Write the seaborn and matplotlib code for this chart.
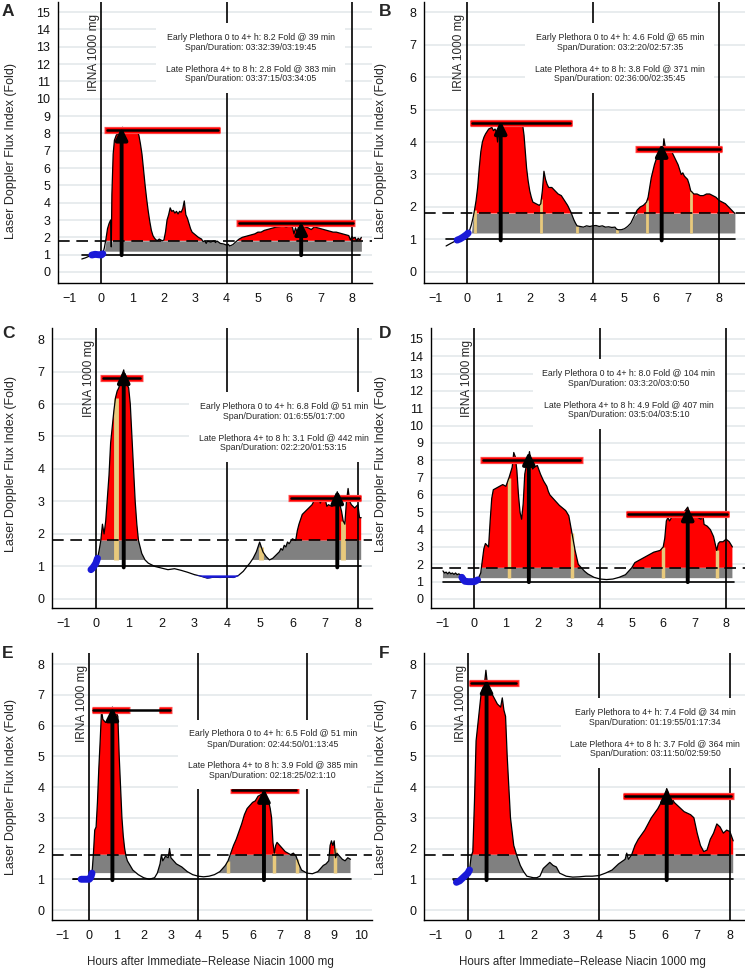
import numpy as np
import pandas as pd
import seaborn as sns
import matplotlib
matplotlib.use('Agg')
import matplotlib.pyplot as plt
from matplotlib import transforms

sns.set_style('white')
FONT = ['Liberation Sans', 'DejaVu Sans']
plt.rcParams['font.family'] = FONT
plt.rcParams['axes.unicode_minus'] = True

# ---- curves: (hours, fold) ----
curve_A = [(-0.62, 0.75), (-0.5, 0.82), (-0.4, 0.9), (-0.3, 0.98), (-0.2, 1.02), (-0.1, 1.0), (0.0, 0.98),
           (0.05, 1.05), (0.1, 1.4), (0.15, 1.9), (0.2, 2.5), (0.25, 2.8), (0.3, 3.0), (0.32, 1.45), (0.34, 4.5),
           (0.38, 6.8), (0.42, 7.6), (0.48, 7.9), (0.55, 8.0), (0.62, 8.2), (0.68, 8.35), (0.75, 8.25), (0.85, 8.2),
           (0.95, 8.22), (1.05, 8.18), (1.15, 8.1), (1.2, 7.9), (1.25, 7.4), (1.3, 6.8), (1.35, 5.9), (1.4, 5.0),
           (1.45, 4.2), (1.5, 3.5), (1.55, 2.9), (1.6, 2.4), (1.65, 2.1), (1.7, 1.95), (1.75, 1.85), (1.8, 1.82),
           (1.85, 1.9), (1.9, 1.85), (1.95, 1.8), (2.0, 1.85), (2.05, 2.3), (2.1, 3.0), (2.15, 3.3), (2.2, 3.7),
           (2.25, 3.5), (2.3, 3.55), (2.35, 3.4), (2.4, 3.5), (2.45, 3.35), (2.5, 3.5), (2.55, 3.45), (2.6, 3.65),
           (2.65, 4.1), (2.7, 3.3), (2.75, 3.1), (2.8, 2.8), (2.85, 2.5), (2.9, 2.3), (3.0, 2.15), (3.1, 2.0),
           (3.2, 1.9), (3.25, 1.75), (3.3, 1.8), (3.35, 1.65), (3.4, 1.78), (3.5, 1.72), (3.6, 1.8), (3.65, 1.7),
           (3.7, 1.78), (3.8, 1.65), (3.9, 1.62), (4.0, 1.55), (4.05, 1.6), (4.1, 1.5), (4.2, 1.58), (4.3, 1.75),
           (4.4, 1.9), (4.5, 2.0), (4.6, 2.05), (4.7, 2.1), (4.8, 2.15), (4.9, 2.2), (5.0, 2.3), (5.1, 2.3),
           (5.2, 2.4), (5.3, 2.45), (5.4, 2.5), (5.5, 2.55), (5.6, 2.6), (5.7, 2.62), (5.8, 2.65), (5.9, 2.6),
           (6.0, 2.65), (6.1, 2.6), (6.15, 2.2), (6.2, 2.55), (6.25, 2.3), (6.3, 2.65), (6.38, 2.85), (6.45, 2.7),
           (6.5, 2.6), (6.6, 2.55), (6.7, 2.45), (6.8, 2.6), (6.9, 2.55), (7.0, 2.5), (7.1, 2.45), (7.2, 2.4),
           (7.3, 2.35), (7.4, 2.3), (7.5, 2.3), (7.6, 2.25), (7.7, 2.2), (7.8, 2.15), (7.9, 2.1), (7.95, 1.85),
           (8.0, 2.05), (8.05, 1.95), (8.1, 2.0), (8.15, 1.8), (8.2, 1.95), (8.25, 1.85), (8.3, 2.0)]

curve_B = [(-0.65, 0.8), (-0.5, 0.88), (-0.4, 0.93), (-0.3, 0.98), (-0.2, 1.02), (-0.1, 1.08), (0.0, 1.15),
           (0.05, 1.2), (0.1, 1.3), (0.15, 1.45), (0.2, 1.65), (0.25, 1.9), (0.3, 2.2), (0.35, 2.6), (0.4, 3.2),
           (0.45, 3.7), (0.5, 4.0), (0.55, 4.15), (0.6, 4.25), (0.7, 4.4), (0.8, 4.45), (0.85, 4.35), (0.9, 4.4),
           (0.95, 4.3), (0.98, 4.0), (1.02, 4.4), (1.08, 4.65), (1.12, 4.5), (1.2, 4.52), (1.3, 4.55), (1.4, 4.55),
           (1.5, 4.53), (1.6, 4.55), (1.7, 4.55), (1.78, 4.5), (1.82, 4.2), (1.86, 3.7), (1.9, 3.2), (1.95, 2.8),
           (2.0, 2.5), (2.05, 2.3), (2.1, 2.15), (2.2, 2.1), (2.3, 2.05), (2.35, 2.1), (2.4, 2.5), (2.45, 3.1),
           (2.5, 2.85), (2.55, 2.7), (2.6, 2.6), (2.7, 2.6), (2.8, 2.5), (2.9, 2.4), (3.0, 2.35), (3.1, 2.2),
           (3.2, 2.05), (3.3, 1.85), (3.4, 1.6), (3.45, 1.5), (3.5, 1.42), (3.6, 1.4), (3.7, 1.38), (3.8, 1.42),
           (3.9, 1.4), (4.0, 1.42), (4.1, 1.43), (4.2, 1.4), (4.3, 1.42), (4.4, 1.38), (4.5, 1.39), (4.6, 1.37),
           (4.7, 1.38), (4.75, 1.32), (4.8, 1.3), (4.9, 1.3), (5.0, 1.33), (5.1, 1.4), (5.2, 1.5), (5.3, 1.7),
           (5.4, 1.9), (5.5, 2.0), (5.6, 2.05), (5.7, 2.15), (5.75, 2.3), (5.8, 2.6), (5.85, 2.9), (5.9, 3.1),
           (5.95, 3.3), (6.0, 3.45), (6.05, 3.55), (6.1, 3.7), (6.18, 3.85), (6.22, 3.75), (6.25, 4.1), (6.3, 3.8),
           (6.4, 3.8), (6.5, 3.7), (6.6, 3.5), (6.7, 3.3), (6.75, 3.15), (6.8, 3.0), (6.85, 3.05), (6.9, 2.95),
           (7.0, 2.85), (7.05, 2.7), (7.1, 2.5), (7.15, 2.45), (7.2, 2.4), (7.3, 2.4), (7.4, 2.35), (7.5, 2.35),
           (7.6, 2.4), (7.7, 2.4), (7.8, 2.35), (7.9, 2.3), (8.0, 2.2), (8.1, 2.15), (8.2, 2.1), (8.3, 2.0),
           (8.4, 1.9), (8.5, 1.8)]

curve_C = [(-0.15, 0.9), (-0.1, 0.95), (-0.05, 1.02), (0.0, 1.1), (0.05, 1.25), (0.1, 1.5), (0.15, 1.8),
           (0.2, 2.3), (0.25, 2.0), (0.3, 2.4), (0.35, 3.1), (0.4, 3.8), (0.45, 4.8), (0.5, 5.3), (0.55, 5.8),
           (0.6, 6.2), (0.65, 6.4), (0.7, 6.5), (0.75, 6.7), (0.8, 6.9), (0.85, 7.05), (0.9, 6.7), (0.95, 6.6),
           (1.0, 6.5), (1.05, 6.0), (1.1, 5.0), (1.15, 4.0), (1.2, 3.0), (1.25, 2.3), (1.3, 1.8), (1.4, 1.4),
           (1.5, 1.2), (1.6, 1.1), (1.8, 1.0), (2.0, 0.95), (2.2, 0.9), (2.4, 0.93), (2.6, 0.88), (2.8, 0.82),
           (3.0, 0.75), (3.2, 0.7), (3.4, 0.64), (3.6, 0.67), (3.8, 0.66), (4.0, 0.67), (4.2, 0.66), (4.35, 0.72),
           (4.5, 0.85), (4.6, 0.98), (4.7, 1.1), (4.8, 1.25), (4.9, 1.45), (5.0, 1.75), (5.05, 1.6), (5.1, 1.45),
           (5.2, 1.3), (5.3, 1.2), (5.4, 1.25), (5.5, 1.35), (5.6, 1.45), (5.65, 1.55), (5.7, 1.5), (5.75, 1.65),
           (5.8, 1.6), (5.85, 1.75), (5.9, 1.7), (6.0, 1.85), (6.1, 1.8), (6.15, 2.1), (6.2, 2.3), (6.3, 2.6),
           (6.4, 2.7), (6.5, 2.8), (6.6, 2.9), (6.7, 3.1), (6.8, 3.15), (6.85, 2.95), (6.9, 3.05), (7.0, 3.1),
           (7.05, 2.85), (7.1, 2.9), (7.2, 2.85), (7.3, 2.9), (7.37, 3.3), (7.45, 2.9), (7.5, 2.7), (7.55, 2.4),
           (7.6, 2.3), (7.65, 3.0), (7.7, 3.4), (7.75, 3.0), (7.8, 2.9), (7.9, 2.8), (8.0, 2.9), (8.05, 2.5),
           (8.1, 2.5)]

curve_D = [(-1.0, 1.62), (-0.95, 1.5), (-0.9, 1.55), (-0.85, 1.45), (-0.8, 1.55), (-0.75, 1.45), (-0.7, 1.5),
           (-0.65, 1.42), (-0.6, 1.5), (-0.55, 1.4), (-0.5, 1.45), (-0.45, 1.4), (-0.4, 1.25), (-0.35, 1.1),
           (-0.3, 1.02), (-0.2, 1.0), (-0.1, 1.0), (0.0, 1.0), (0.1, 1.1), (0.2, 1.5), (0.25, 2.2), (0.3, 2.9),
           (0.35, 3.2), (0.4, 3.1), (0.45, 3.0), (0.5, 4.5), (0.55, 5.8), (0.6, 6.3), (0.7, 6.4), (0.8, 6.5),
           (0.9, 6.6), (1.0, 6.5), (1.1, 7.0), (1.2, 7.6), (1.25, 8.45), (1.3, 8.2), (1.35, 7.4), (1.4, 6.0),
           (1.45, 5.0), (1.5, 4.6), (1.55, 5.5), (1.6, 7.2), (1.65, 7.7), (1.7, 7.9), (1.75, 8.5), (1.8, 7.8),
           (1.85, 7.5), (1.9, 7.6), (2.0, 7.7), (2.1, 7.2), (2.2, 6.8), (2.3, 6.5), (2.35, 6.2), (2.4, 6.0),
           (2.5, 5.8), (2.6, 5.6), (2.7, 5.4), (2.8, 5.25), (2.9, 5.1), (3.0, 4.8), (3.1, 3.8), (3.2, 2.8),
           (3.3, 2.0), (3.4, 1.8), (3.5, 1.6), (3.6, 1.45), (3.7, 1.35), (3.8, 1.25), (4.0, 1.15), (4.2, 1.12),
           (4.4, 1.15), (4.6, 1.25), (4.8, 1.4), (4.9, 1.6), (5.0, 1.8), (5.1, 2.1), (5.2, 2.2), (5.3, 2.3),
           (5.4, 2.4), (5.5, 2.5), (5.6, 2.6), (5.7, 2.7), (5.8, 2.75), (5.9, 2.8), (6.0, 3.0), (6.05, 3.5),
           (6.1, 4.5), (6.15, 4.7), (6.2, 4.5), (6.3, 4.8), (6.4, 4.7), (6.5, 4.85), (6.6, 4.9), (6.7, 5.1),
           (6.78, 5.3), (6.85, 4.9), (6.9, 5.0), (7.0, 4.9), (7.1, 4.7), (7.2, 4.6), (7.25, 5.0), (7.3, 4.3),
           (7.4, 4.2), (7.5, 4.0), (7.6, 3.6), (7.7, 2.8), (7.75, 3.2), (7.8, 3.3), (7.9, 3.3), (8.0, 3.45),
           (8.1, 3.3), (8.2, 3.0)]

curve_E = [(-0.6, 1.0), (-0.5, 1.0), (-0.4, 1.0), (-0.3, 1.0), (-0.2, 1.0), (-0.1, 1.0), (0.0, 1.0),
           (0.05, 1.05), (0.1, 1.2), (0.15, 1.8), (0.2, 2.6), (0.25, 2.7), (0.3, 3.5), (0.35, 4.6), (0.4, 5.5),
           (0.45, 6.5), (0.5, 6.2), (0.6, 6.1), (0.7, 6.2), (0.8, 6.3), (0.85, 6.6), (0.9, 6.5), (1.0, 6.4),
           (1.05, 6.3), (1.1, 5.0), (1.15, 4.0), (1.2, 3.0), (1.25, 2.4), (1.3, 2.0), (1.35, 1.75), (1.4, 1.6),
           (1.5, 1.45), (1.6, 1.3), (1.8, 1.15), (2.0, 1.05), (2.2, 1.0), (2.4, 1.05), (2.5, 1.2), (2.6, 1.5),
           (2.65, 1.8), (2.7, 1.6), (2.8, 1.75), (2.9, 1.7), (2.95, 2.0), (3.0, 1.7), (3.1, 1.6), (3.2, 1.5),
           (3.4, 1.4), (3.6, 1.25), (3.8, 1.15), (4.0, 1.1), (4.2, 1.08), (4.4, 1.1), (4.6, 1.15), (4.8, 1.25),
           (5.0, 1.45), (5.1, 1.6), (5.2, 1.85), (5.3, 2.1), (5.4, 2.3), (5.5, 2.55), (5.6, 2.8), (5.7, 3.1),
           (5.8, 3.3), (5.9, 3.4), (6.0, 3.5), (6.1, 3.55), (6.2, 3.7), (6.3, 3.75), (6.42, 3.95), (6.5, 3.7),
           (6.6, 3.5), (6.65, 3.3), (6.7, 3.0), (6.75, 2.2), (6.8, 1.85), (6.85, 2.1), (6.9, 2.2), (7.0, 2.1),
           (7.1, 2.0), (7.2, 1.9), (7.3, 1.85), (7.4, 1.8), (7.5, 1.85), (7.6, 1.75), (7.7, 1.5), (7.8, 1.3),
           (7.9, 1.25), (8.0, 1.2), (8.2, 1.18), (8.4, 1.25), (8.6, 1.45), (8.7, 1.5), (8.8, 1.6), (8.85, 2.1),
           (8.9, 2.25), (8.95, 2.1), (9.0, 2.25), (9.05, 1.7), (9.1, 1.85), (9.2, 1.75), (9.3, 1.65), (9.4, 1.6),
           (9.5, 1.7), (9.6, 1.65)]

curve_F = [(-0.45, 0.98), (-0.35, 0.9), (-0.25, 0.95), (-0.15, 1.05), (-0.05, 1.15), (0.0, 1.2), (0.05, 1.3),
           (0.1, 1.75), (0.15, 1.9), (0.2, 3.5), (0.25, 5.5), (0.3, 6.0), (0.35, 6.5), (0.4, 7.0), (0.45, 7.2),
           (0.5, 7.3), (0.55, 7.8), (0.6, 7.3), (0.7, 7.1), (0.8, 6.9), (0.9, 6.7), (1.0, 6.6), (1.05, 6.9),
           (1.1, 6.5), (1.15, 6.3), (1.2, 5.0), (1.25, 4.0), (1.3, 3.0), (1.4, 2.1), (1.5, 1.75), (1.6, 1.45),
           (1.7, 1.25), (1.8, 1.1), (2.0, 1.05), (2.1, 1.05), (2.2, 1.1), (2.3, 1.35), (2.4, 1.45), (2.5, 1.55),
           (2.6, 1.45), (2.7, 1.4), (2.8, 1.2), (3.0, 1.1), (3.2, 1.07), (3.4, 1.08), (3.6, 1.1), (3.8, 1.1),
           (4.0, 1.12), (4.2, 1.2), (4.4, 1.3), (4.6, 1.5), (4.8, 1.65), (4.85, 1.85), (4.9, 1.65), (5.0, 1.8),
           (5.1, 2.1), (5.2, 2.3), (5.4, 2.6), (5.6, 3.0), (5.8, 3.3), (5.9, 3.5), (6.0, 3.7), (6.07, 3.95),
           (6.15, 3.75), (6.2, 3.7), (6.3, 3.5), (6.4, 3.4), (6.5, 3.3), (6.6, 3.2), (6.7, 3.15), (6.8, 3.1),
           (6.9, 3.0), (7.0, 2.5), (7.1, 2.1), (7.2, 1.9), (7.3, 1.95), (7.4, 2.3), (7.5, 2.5), (7.6, 2.8),
           (7.7, 2.7), (7.8, 2.5), (7.9, 2.6), (8.0, 2.55), (8.05, 2.4), (8.1, 2.25)]

# peak arrows: (hour, fold) for early and late plethora
peaks_A = [(0.65, 8.35), (6.38, 2.9)]
peaks_B = [(1.08, 4.65), (6.18, 3.95)]
peaks_C = [(0.85, 7.05), (7.37, 3.35)]
peaks_D = [(1.73, 8.5), (6.78, 5.3)]
peaks_E = [(0.85, 6.6), (6.42, 3.95)]
peaks_F = [(0.57, 7.5), (6.07, 3.95)]

# plethora bars: (start h, end h, fold)
bars_A = [(0.1, 3.8, 8.2), (4.3, 8.1, 2.8)]
bars_B = [(0.1, 3.35, 4.6), (5.35, 8.1, 3.8)]
bars_C = [(0.13, 1.44, 6.8), (5.88, 8.1, 3.1)]
bars_D = [(0.18, 3.44, 8.0), (4.81, 8.1, 4.9)]
bars_E = [(0.09, 1.48, 6.5), (2.56, 3.04, 6.5), (5.17, 7.69, 3.9)]
bars_F = [(0.02, 1.55, 7.4), (4.73, 8.11, 3.7)]
bar_lines_E = [(0.15, 2.98, 6.5), (5.25, 7.6, 3.9)]

# crossing marks (hours)
marks_B = [0.25, 2.37, 3.5, 4.75, 5.72, 7.1]
marks_C = [0.6, 5.05, 7.55]
marks_D = [1.1, 3.1, 6.0, 7.7]
marks_E = [5.1, 6.8, 7.63, 9.02]

texts = {
    'A': ['Early Plethora 0 to 4+ h: 8.2 Fold @ 39 min', 'Span/Duration: 03:32:39/03:19:45',
          'Late Plethora 4+ to 8 h: 2.8 Fold @ 383 min', 'Span/Duration: 03:37:15/03:34:05'],
    'B': ['Early Plethora 0 to 4+ h: 4.6 Fold @ 65 min', 'Span/Duration: 03:2:20/02:57:35',
          'Late Plethora 4+ to 8 h: 3.8 Fold @ 371 min', 'Span/Duration: 02:36:00/02:35:45'],
    'C': ['Early Plethora 0 to 4+ h: 6.8 Fold @ 51 min', 'Span/Duration: 01:6:55/01:7:00',
          'Late Plethora 4+ to 8 h: 3.1 Fold @ 442 min', 'Span/Duration: 02:2:20/01:53:15'],
    'D': ['Early Plethora 0 to 4+ h: 8.0 Fold @ 104 min', 'Span/Duration: 03:3:20/03:0:50',
          'Late Plethora 4+ to 8 h: 4.9 Fold @ 407 min', 'Span/Duration: 03:5:04/03:5:10'],
    'E': ['Early Plethora 0 to 4+ h: 6.5 Fold @ 51 min', 'Span/Duration: 02:44:50/01:13:45',
          'Late Plethora 4+ to 8 h: 3.9 Fold @ 385 min', 'Span/Duration: 02:18:25/02:1:10'],
    'F': ['Early Plethora to 4+ h: 7.4 Fold @ 34 min', 'Span/Duration: 01:19:55/01:17:34',
          'Late Plethora 4+ to 8 h: 3.7 Fold @ 364 min', 'Span/Duration: 03:11:50/02:59:50'],
}

W, H = 745, 971
RED, GRAY, TAN, BLUE = '#ff0000', '#808080', '#e8c97c', '#1a1ad8'

# layout in pixels: left, right, top, bottom
panels = {
    'A': dict(px=(58, 372, 2, 283), xlim=(-1.38, 8.64), ylim=(-0.635, 15.58), ymax=15, xmax=8,
              curve=curve_A, peaks=peaks_A, bars=bars_A, lines=None, marks=[], mw=2,
              g0=0.15, base=(-0.62, 8.25), blue=(-0.35, 0.05), txt=(0.614, 0.80)),
    'B': dict(px=(424, 745, 2, 283), xlim=(-1.35, 8.82), ylim=(-0.34, 8.31), ymax=8, xmax=8,
              curve=curve_B, peaks=peaks_B, bars=bars_B, lines=None, marks=marks_B, mw=2,
              g0=0.2, base=(-0.65, 8.5), blue=(-0.35, 0.05), txt=(0.61, 0.80)),
    'C': dict(px=(52, 372, 328, 608), xlim=(-1.34, 8.43), ylim=(-0.28, 8.34), ymax=8, xmax=8,
              curve=curve_C, peaks=peaks_C, bars=bars_C, lines=None, marks=marks_C, mw=3.5,
              g0=0.1, base=(0.0, 8.1), blue=(-0.15, 0.05), txt=(0.724, 0.646)),
    'D': dict(px=(431, 745, 328, 608), xlim=(-1.38, 8.6), ylim=(-0.52, 15.63), ymax=15, xmax=8,
              curve=curve_D, peaks=peaks_D, bars=bars_D, lines=None, marks=marks_D, mw=2.5,
              g0=-1.05, base=(-1.0, 8.25), blue=(-0.4, 0.1), txt=(0.63, 0.764)),
    'E': dict(px=(52, 372, 653, 920), xlim=(-1.37, 10.39), ylim=(-0.325, 8.36), ymax=8, xmax=10,
              curve=curve_E, peaks=peaks_E, bars=bars_E, lines=bar_lines_E, marks=marks_E, mw=2.5,
              g0=0.1, base=(-0.6, 9.6), blue=(-0.35, 0.1), txt=(0.69, 0.62)),
    'F': dict(px=(424, 745, 653, 920), xlim=(-1.34, 8.46), ylim=(-0.325, 8.36), ymax=8, xmax=8,
              curve=curve_F, peaks=peaks_F, bars=bars_F, lines=None, marks=[], mw=2,
              g0=0.1, base=(-0.45, 8.1), blue=(-0.35, 0.05), txt=(0.72, 0.70)),
}

fig = plt.figure(figsize=(W / 100, H / 100), dpi=100)


def draw_panel(ax, p):
    t = np.array([c[0] for c in p['curve']])
    v = np.array([c[1] for c in p['curve']])
    df = pd.DataFrame({'hours': t, 'flux': v})

    ax.set_xlim(*p['xlim'])
    ax.set_ylim(*p['ylim'])
    ax.set_yticks(range(0, p['ymax'] + 1))
    ax.set_xticks(range(-1, p['xmax'] + 1))
    ax.yaxis.grid(True, color='#e1e7ea', lw=1.1)
    ax.xaxis.grid(False)
    ax.set_axisbelow(True)
    for s in ['top', 'right']:
        ax.spines[s].set_visible(False)
    for s in ['left', 'bottom']:
        ax.spines[s].set_color('black')
        ax.spines[s].set_linewidth(1.0)
    ax.tick_params(axis='both', direction='out', length=4.5, width=1, color='black',
                   labelsize=9, labelcolor='#111111')
    ax.tick_params(axis='y', pad=1)
    ax.tick_params(axis='x', pad=2.5)

    # shaded areas
    ax.fill_between(t, 1.2, np.minimum(v, 1.8), where=(v >= 1.2) & (t >= p['g0']),
                    interpolate=True, color=GRAY, lw=0, zorder=1.5)
    ax.fill_between(t, 1.8, v, where=(v >= 1.8) & (t >= 0.05),
                    interpolate=True, color=RED, lw=0, zorder=1.5)
    if p['marks']:
        tops = np.interp(p['marks'], t, v)
        ax.vlines(p['marks'], 1.2, tops, color=TAN, lw=p['mw'], zorder=1.6)

    for x in [0, 4, 8]:
        ax.axvline(x, color='black', lw=1.2, zorder=2)
    ax.axhline(1.8, color='black', lw=1.2, dashes=(7, 4), zorder=3.4)
    ax.plot(p['base'], [1, 1], color='black', lw=1.2, zorder=3)

    sns.lineplot(data=df, x='hours', y='flux', ax=ax, color='black', lw=0.9,
                 estimator=None, zorder=3)
    ax.set_xlabel('')
    ax.set_ylabel('')

    m = (t >= p['blue'][0]) & (t <= p['blue'][1])
    ax.plot(t[m], v[m], color=BLUE, lw=5, solid_capstyle='round', zorder=3.6)

    for x0, x1, y in p['bars']:
        ax.plot([x0, x1], [y, y], color='#ff5050', lw=5.2, solid_capstyle='butt', zorder=4)
        ax.plot([x0 + 0.02, x1 - 0.02], [y, y], color=RED, lw=3.8, solid_capstyle='butt', zorder=4)
    lines = p['lines'] if p['lines'] else [(b[0] + 0.08, b[1] - 0.08, b[2]) for b in p['bars']]
    for x0, x1, y in lines:
        ax.plot([x0, x1], [y, y], color='black', lw=1.8, zorder=4.1)

    for xp, yp in p['peaks']:
        ax.annotate('', xy=(xp, yp), xytext=(xp, 0.97),
                    arrowprops=dict(arrowstyle='-|>,head_length=0.55,head_width=0.27',
                                    lw=2.8, color='black', shrinkA=0, shrinkB=0,
                                    mutation_scale=13),
                    zorder=5)

    h_px = p['px'][3] - p['px'][2]
    trans = transforms.blended_transform_factory(ax.transData, ax.transAxes)
    ax.text(-0.04, 1 - 12 / h_px, 'IRNA 1000 mg', rotation=90, ha='right', va='top',
            transform=trans, fontsize=8.5, zorder=6)
    return t, v


for name, p in panels.items():
    l, r, top, b = p['px']
    ax = fig.add_axes([l / W, 1 - b / H, (r - l) / W, (b - top) / H])
    t, v = draw_panel(ax, p)
    if name == 'C':
        m = (t >= 3.0) & (t <= 4.35)
        ax.fill_between(t[m], v[m], 0.74, color=BLUE, lw=0, zorder=3.5)
    lines = texts[name]
    ax.text(p['txt'][0], p['txt'][1], '\n'.join([lines[0], lines[1], '', lines[2], lines[3]]),
            transform=ax.transAxes, ha='center', va='center', fontsize=6.3, linespacing=1.2,
            bbox=dict(facecolor='white', edgecolor='none', boxstyle='square,pad=1.1'), zorder=6)

# panel letters
for name, (x, y) in {'A': (2, 11), 'B': (379, 11), 'C': (2, 333), 'D': (379, 334),
                     'E': (2, 653), 'F': (379, 653)}.items():
    fig.text(x / W, 1 - y / H, name, fontsize=12.5, fontweight='bold', ha='left', va='center')

ylab = 'Laser Doppler Flux Index (Fold)'
for x, y in [(11, 151), (381, 151), (11, 464), (381, 464), (11, 787), (381, 787)]:
    fig.text(x / W, 1 - y / H, ylab, rotation=90, ha='center', va='center', fontsize=9)

xlab = 'Hours after Immediate\u2212Release Niacin 1000 mg'
for x in [210, 582]:
    fig.text(x / W, 1 - 962 / H, xlab, ha='center', va='center', fontsize=8.3)

fig.savefig('out.png', dpi=100)
